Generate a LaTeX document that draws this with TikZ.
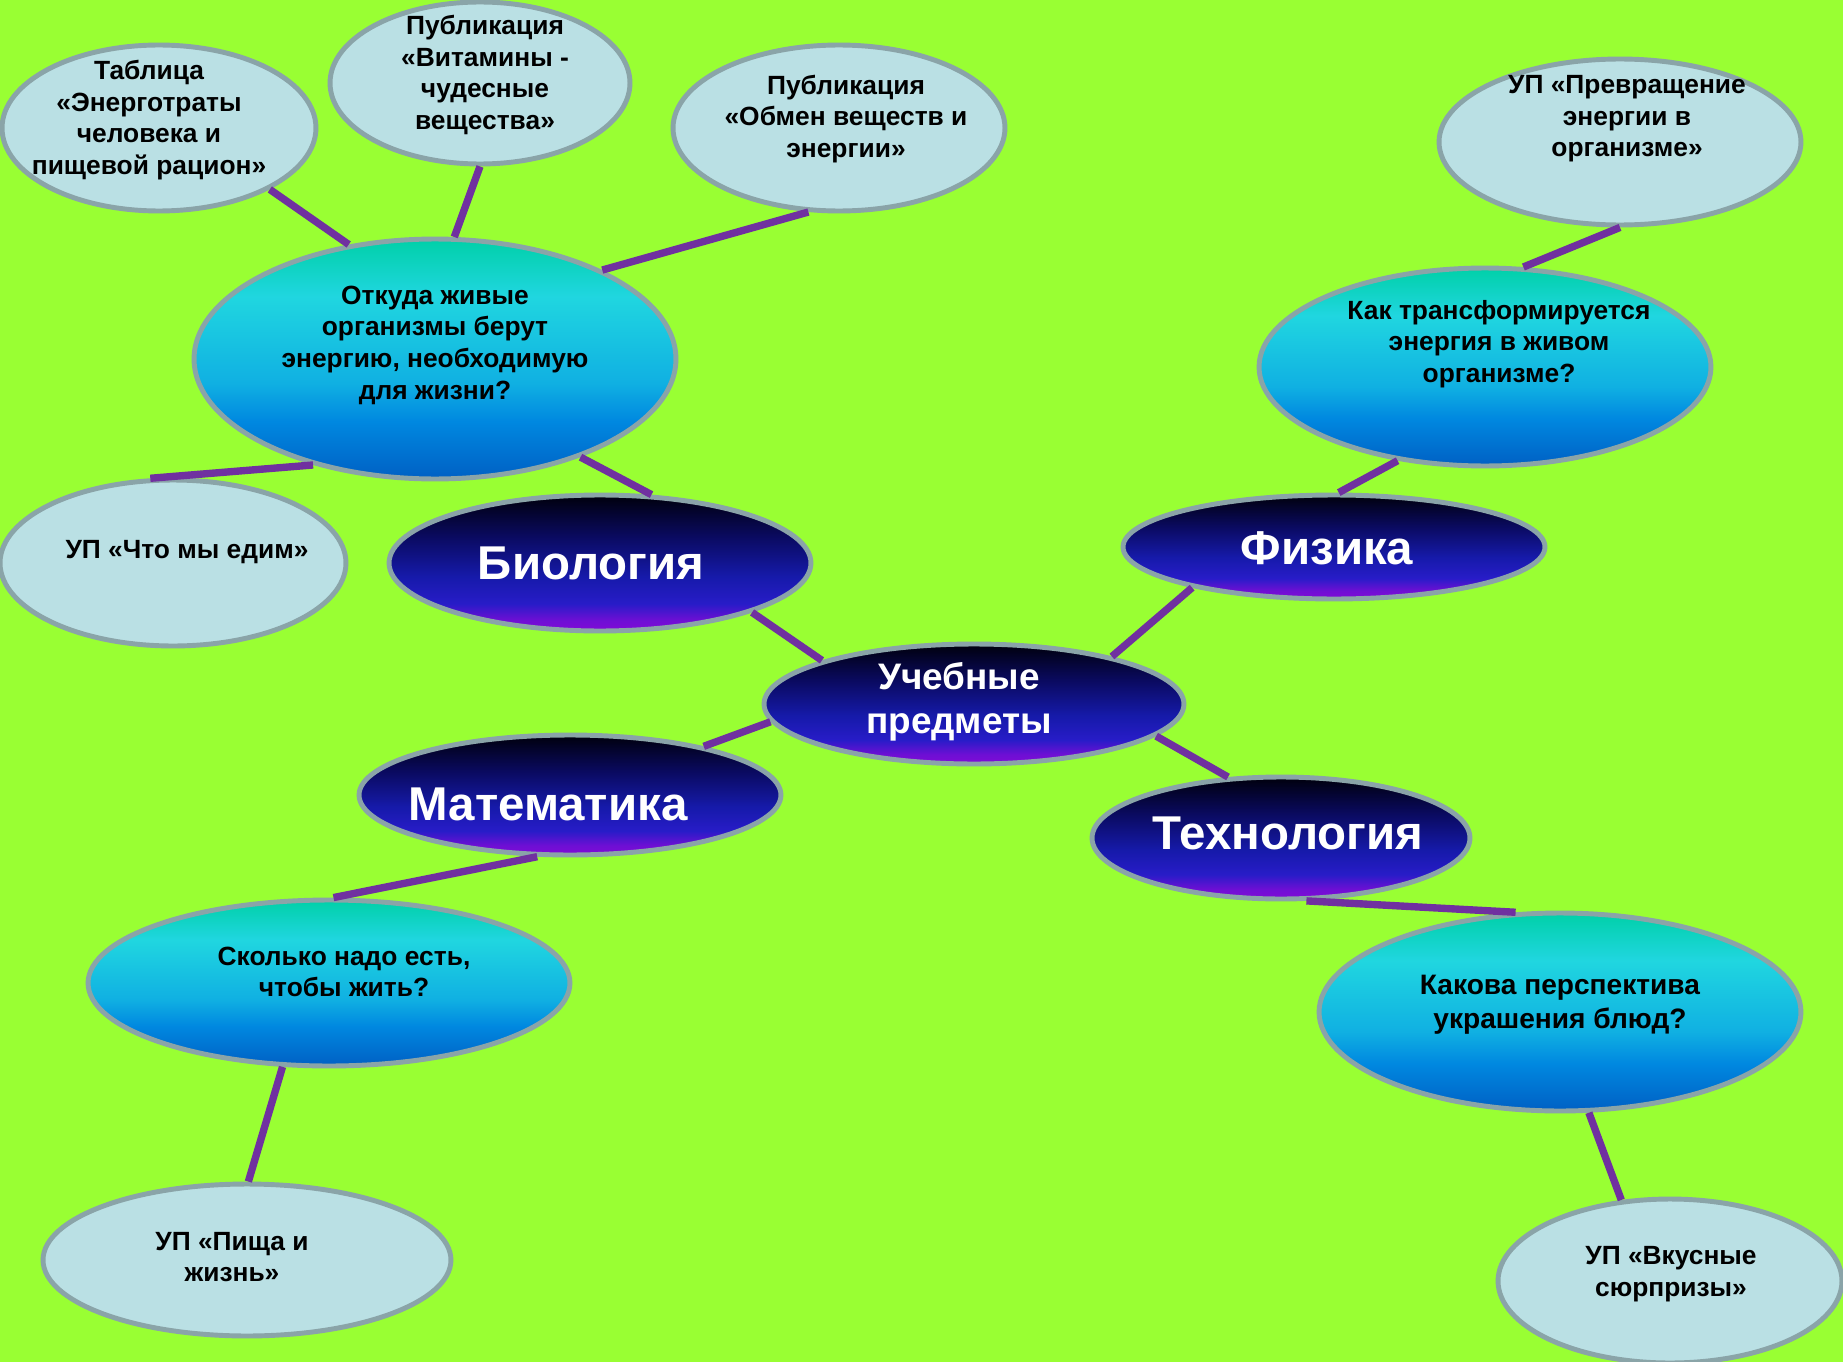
\documentclass[tikz,border=0pt]{standalone}
\usepackage{fontspec}
\setmainfont{Liberation Sans}
\usetikzlibrary{shapes.geometric}

\definecolor{limebg}{RGB}{153,255,51}
\definecolor{paleblue}{RGB}{186,224,228}
\definecolor{rimgray}{RGB}{138,164,168}
\definecolor{linkpurple}{RGB}{112,48,160}
% question ovals
\definecolor{skytop}{RGB}{0,208,168}
\definecolor{skycyan}{RGB}{32,214,224}
\definecolor{skymid}{RGB}{16,176,226}
\definecolor{skylow}{RGB}{0,136,224}
\definecolor{skybot}{RGB}{0,96,196}
% subject ovals
\definecolor{nighttop}{RGB}{0,0,12}
\definecolor{nightnavy}{RGB}{10,10,95}
\definecolor{nightblue}{RGB}{22,26,170}
\definecolor{nightlow}{RGB}{40,28,200}
\definecolor{nightpurp}{RGB}{110,15,212}
\definecolor{nightbot}{RGB}{130,10,215}

\pgfdeclareverticalshading{skyshade}{100bp}{color(0bp)=(skybot); color(25bp)=(skybot);
  color(37bp)=(skylow); color(45bp)=(skymid); color(63bp)=(skycyan); color(75bp)=(skytop); color(100bp)=(skytop)}
\pgfdeclareverticalshading{nightshade}{100bp}{color(0bp)=(nightbot); color(25bp)=(nightbot);
  color(29bp)=(nightpurp); color(35bp)=(nightlow); color(45bp)=(nightblue); color(60bp)=(nightnavy);
  color(75bp)=(nighttop); color(100bp)=(nighttop)}

\tikzset{
  topic/.style={ellipse, draw=rimgray, line width=2.8pt, fill=paleblue},
  quest/.style={ellipse, draw=rimgray, line width=2.8pt, shading=skyshade},
  subj/.style={ellipse, draw=rimgray, line width=2.8pt, shading=nightshade},
  small/.style={align=center, font=\fontsize{15}{18}\selectfont\bfseries},
  big/.style={align=center, text=white, font=\fontsize{27}{32}\selectfont\bfseries},
  link/.style={draw=linkpurple, line width=4.2pt}
}

\begin{document}
\begin{tikzpicture}[x=0.02cm, y=-0.02cm]
  \useasboundingbox (0,0) rectangle (1843,1362);
  \fill[limebg] (0,0) rectangle (1843,1362);

  % resources
  \node[topic, minimum width=6.28cm, minimum height=3.32cm] (tabl) at (159,128) {};
  \node[topic, minimum width=6.0cm, minimum height=3.24cm] (vit) at (480,83) {};
  \node[topic, minimum width=6.64cm, minimum height=3.32cm] (obm) at (839,128) {};
  \node[topic, minimum width=7.24cm, minimum height=3.32cm] (prev) at (1620,142) {};
  \node[topic, minimum width=6.92cm, minimum height=3.32cm] (chto) at (173,563) {};
  \node[topic, minimum width=8.16cm, minimum height=3.04cm] (pisha) at (247,1260) {};
  \node[topic, minimum width=6.88cm, minimum height=3.28cm] (vkus) at (1670,1281) {};

  % questions
  \node[quest, minimum width=9.64cm, minimum height=4.8cm] (otk) at (435,359) {};
  \node[quest, minimum width=9.04cm, minimum height=3.96cm] (kak) at (1485,367) {};
  \node[quest, minimum width=9.64cm, minimum height=3.32cm] (skol) at (329,983) {};
  \node[quest, minimum width=9.64cm, minimum height=3.96cm] (kakova) at (1560,1012) {};

  % subjects
  \node[subj, minimum width=8.44cm, minimum height=2.72cm] (bio) at (600,563) {};
  \node[subj, minimum width=8.44cm, minimum height=2.08cm] (fiz) at (1334,547) {};
  \node[subj, minimum width=8.4cm, minimum height=2.4cm] (ucheb) at (974,704) {};
  \node[subj, minimum width=8.44cm, minimum height=2.4cm] (mat) at (570,795) {};
  \node[subj, minimum width=7.56cm, minimum height=2.44cm] (tekh) at (1281,838) {};

  % links
  \draw[link] (tabl.331) -- (otk.127);
  \draw[link] (vit.270) -- (otk.81);
  \draw[link] (obm.250) -- (otk.28);
  \draw[link] (prev.270) -- (kak.69);
  \draw[link] (otk.221) -- (chto.105);
  \draw[link] (otk.326) -- (bio.53);
  \draw[link] (bio.342) -- (ucheb.164);
  \draw[link] (ucheb.19) -- (fiz.196);
  \draw[link] (fiz.85) -- (kak.227);
  \draw[link] (ucheb.185) -- (mat.20);
  \draw[link] (ucheb.350) -- (tekh.131);
  \draw[link] (mat.242) -- (skol.87);
  \draw[link] (tekh.292) -- (kakova.114);
  \draw[link] (skol.241) -- (pisha.89);
  \draw[link] (kakova.286) -- (vkus.121);

  % texts
  \node[small] (tablt) at (149,120) {Таблица\\«Энерготраты\\человека и\\пищевой рацион»};
  \node[small] (vitt) at (485,75) {Публикация\\«Витамины -\\чудесные\\вещества»};
  \node[small] (obmt) at (846,119) {Публикация\\«Обмен веществ и\\энергии»};
  \node[small] (prevt) at (1627,119) {УП «Превращение\\энергии в\\организме»};
  \node[small] (chtot) at (187,552) {УП «Что мы едим»};
  \node[small] (pishat) at (232,1257) {УП «Пища и\\жизнь»};
  \node[small] (vkust) at (1671,1274) {УП «Вкусные\\сюрпризы»};
  \node[small] (otkt) at (435,345) {Откуда живые\\организмы берут\\энергию, необходимую\\для жизни?};
  \node[small] (kakt) at (1499,344) {Как трансформируется\\энергия в живом\\организме?};
  \node[small] (skolt) at (344,972) {Сколько надо есть,\\чтобы жить?};
  \node[small, font=\fontsize{16}{19.4}\selectfont\bfseries] (kakovat) at (1560,1005) {Какова перспектива\\украшения блюд?};
  \node[big] (biot) at (591,563) {Биология};
  \node[big] (fizt) at (1327,548) {Физика};
  \node[big, font=\fontsize{21}{24.8}\selectfont\bfseries] (uchebt) at (959,702) {Учебные\\предметы};
  \node[big] (matt) at (548,804) {Математика};
  \node[big] (tekht) at (1288,833) {Технология};
\end{tikzpicture}
\end{document}
